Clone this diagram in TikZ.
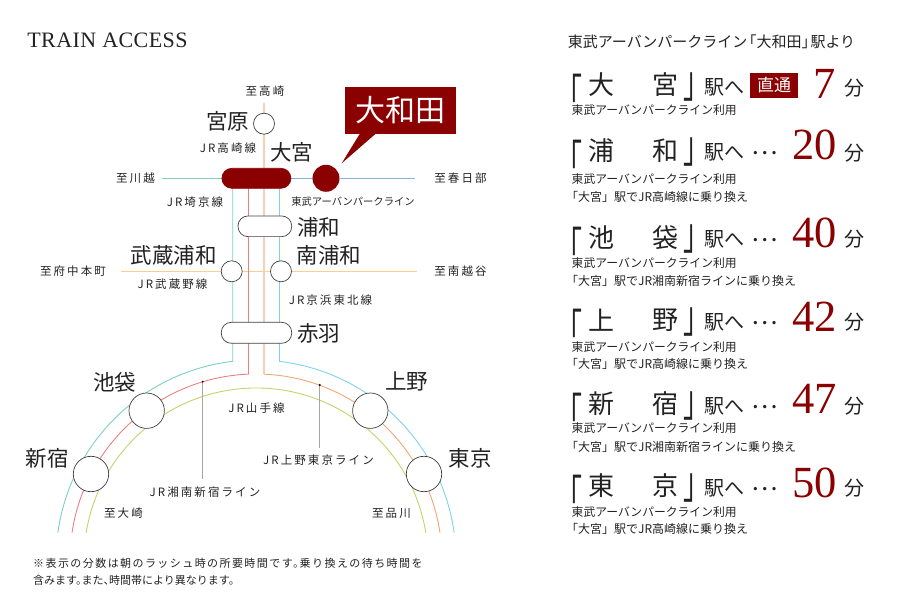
\documentclass[tikz,border=0pt]{standalone}
\usepackage{fontspec}
\setmainfont{Liberation Serif}
\newfontfamily\jp{Noto Sans CJK JP}
\newfontfamily\jpwide[LetterSpace=18]{Noto Sans CJK JP}
\newfontfamily\jptext[LetterSpace=13]{Noto Sans CJK JP}
\newfontfamily\jpbracket[RawFeature=+halt]{Noto Sans CJK JP}
\newfontfamily\titlefont[LetterSpace=2]{Liberation Serif}
\usetikzlibrary{backgrounds,calc}

\definecolor{omiyared}{HTML}{8B0000}
\definecolor{saikyoline}{HTML}{7CD0C6}
\definecolor{shonanline}{HTML}{EE7F80}
\definecolor{uenoline}{HTML}{F3A676}
\definecolor{keihinline}{HTML}{7FD2EC}
\definecolor{yamanoteline}{HTML}{BFD76A}
\definecolor{tobuline}{HTML}{7FB6E0}
\definecolor{musashinoline}{HTML}{F9D08E}
\definecolor{inktext}{HTML}{222222}

\newcommand{\openbr}{\scalebox{1}[1.7]{「}}
\newcommand{\closebr}{\scalebox{1}[1.7]{」}}

\tikzset{
    railline/.style={line width=0.9pt},
    stationdot/.style={circle, draw=black!75, fill=white, line width=0.7pt, inner sep=0pt, outer sep=0pt, minimum size=#1},
    stationpill/.style={rectangle, rounded corners=10pt, draw=black!75, fill=white, line width=0.7pt, inner sep=0pt, outer sep=0pt},
    stationname/.style={font=\jp\fontsize{21.5}{24}\selectfont, text=inktext, inner sep=0pt},
    linelabel/.style={font=\jpwide\fontsize{11.5}{13}\selectfont, text=inktext, inner sep=0pt},
    bigkanji/.style={font=\jp\fontsize{26}{28}\selectfont, text=inktext, inner sep=0pt},
    bigbracket/.style={font=\jpbracket\fontsize{26}{28}\selectfont, text=inktext, inner sep=0pt},
    ekitext/.style={font=\jp\fontsize{20}{22}\selectfont, text=inktext, inner sep=0pt},
    waitdots/.style={font=\jp\fontsize{25}{27}\selectfont, text=inktext, inner sep=0pt},
    minutes/.style={font=\fontsize{44.5}{48}\selectfont, text=omiyared, inner sep=0pt, anchor=base east},
    subtext/.style={font=\jp\fontsize{11.8}{14}\selectfont, text=inktext, inner sep=0pt, anchor=west},
    changetext/.style={font=\jp\fontsize{12}{14}\selectfont, text=inktext, inner sep=0pt, anchor=west},
    leaderline/.style={draw=black!35, line width=0.8pt},
    leaderdot/.style={circle, fill=black, inner sep=0pt, minimum size=2.2pt}
}

\begin{document}
\begin{tikzpicture}[x=1pt, y=1pt]
\useasboundingbox (0,0) rectangle (900,600);
\begin{scope}
    % Title
    \node[font=\titlefont\fontsize{22}{24}\selectfont, text=inktext, inner sep=0pt] (title) at (107.5, 560) {TRAIN ACCESS};

    % Free ends of the lines
    \coordinate (takasakiend) at (264, 497);
    \coordinate (kawagoeend) at (162, 421.7);
    \coordinate (kasukabeend) at (415, 421.7);
    \coordinate (fuchuend) at (121, 328.7);
    \coordinate (koshigayaend) at (416.7, 328.7);
    \coordinate (saikyotop) at (232.7, 422);
    \coordinate (shonantop) at (248.5, 422);
    \coordinate (keihintop) at (279.5, 422);
    \coordinate (saikyobend) at (232.7, 238.64);
    \coordinate (shonanbend) at (248.5, 225.85);
    \coordinate (uenobend) at (264, 225.83);
    \coordinate (keihinbend) at (279.5, 238.6);
    \coordinate (yamanoteend) at (425.8, 67.3);

    % Stations
    \node[stationdot=21pt] (miyahara) at (264, 476.3) {};
    \node[stationpill, draw=omiyared, fill=omiyared, minimum width=69pt, minimum height=20pt] (omiya) at (256.4, 421.7) {};
    \node[circle, fill=omiyared, inner sep=0pt, outer sep=0pt, minimum size=27pt] (owada) at (326, 421.7) {};
    \node[stationpill, minimum width=53.7pt, minimum height=20.7pt] (urawa) at (264.85, 373.7) {};
    \node[stationdot=21pt] (musashiurawa) at (231.7, 328.7) {};
    \node[stationdot=21pt] (minamiurawa) at (281, 328.7) {};
    \node[stationpill, minimum width=70.4pt, minimum height=21pt] (akabane) at (256.5, 267.2) {};
    \node[stationdot=35.4pt] (ikebukuro) at (146.7, 189.3) {};
    \node[stationdot=35.4pt] (shinjuku) at (91, 126) {};
    \node[stationdot=35.4pt] (ueno) at (370.3, 189.3) {};
    \node[stationdot=35.4pt] (tokyo) at (424, 126) {};

    % Lines behind the stations
    \begin{scope}[on background layer]
        \draw[railline, musashinoline] (fuchuend) -- (musashiurawa);
        \draw[railline, musashinoline] (musashiurawa) -- (minamiurawa);
        \draw[railline, musashinoline] (minamiurawa) -- (koshigayaend);
        \draw[railline, saikyoline] (kawagoeend) -- (omiya);
        \draw[railline, tobuline] (omiya) -- (owada);
        \draw[railline, tobuline] (owada) -- (kasukabeend);
        \draw[railline, saikyoline] (saikyotop) -- (saikyobend)
            arc[start angle=96.69, end angle=172.15, radius=200];
        \draw[railline, shonanline] (shonantop) -- (shonanbend)
            arc[start angle=92.31, end angle=171.56, radius=186];
        \draw[line width=1.6pt, uenoline!55] (takasakiend) -- (uenobend);
        \draw[railline, uenoline] (uenobend)
            arc[start angle=87.53, end angle=8.44, radius=186];
        \draw[railline, keihinline] (keihintop) -- (keihinbend)
            arc[start angle=83.25, end angle=7.85, radius=200];
        \draw[railline, yamanoteline] (yamanoteend)
            arc[start angle=9.13, end angle=170.87, radius=172];
    \end{scope}

    % Tag of the home station
    \node[fill=omiyared, text=white, font=\jp\fontsize{30}{32}\selectfont, inner sep=0pt, outer sep=0pt, minimum width=110.4pt, minimum height=47.3pt] (owadatag) at (400.5, 489.7) {大和田};
    \coordinate (tagtip) at (341.7, 436.7);
    \fill[omiyared] ($(owadatag.south west)+(14.7,0.5)$) -- (tagtip) -- ($(owadatag.south west)+(30.7,0.5)$) -- cycle;

    % Station names
    \node[stationname] (miyaharaname) at (227.5, 479) {宮原};
    \node[stationname] (omiyaname) at (291.5, 448) {大宮};
    \node[stationname] (urawaname) at (318.5, 373) {浦和};
    \node[stationname] (musashiurawaname) at (173.5, 345) {武蔵浦和};
    \node[stationname] (minamiurawaname) at (329, 345) {南浦和};
    \node[stationname] (akabanename) at (318.5, 267) {赤羽};
    \node[stationname] (ikebukuroname) at (114.5, 218) {池袋};
    \node[stationname] (shinjukuname) at (47, 142) {新宿};
    \node[stationname] (uenoname) at (406.5, 219) {上野};
    \node[stationname] (tokyoname) at (470, 142) {東京};

    % Line names and directions
    \node[linelabel] (totakasaki) at (265, 509) {至高崎};
    \node[linelabel] (tokawagoe) at (135.5, 422) {至川越};
    \node[linelabel] (tokasukabe) at (460.5, 422) {至春日部};
    \node[linelabel] (tokoshigaya) at (460.5, 329) {至南越谷};
    \node[linelabel] (tofuchu) at (73, 329) {至府中本町};
    \node[linelabel] (toosaki) at (123.5, 87) {至大崎};
    \node[linelabel] (toshinagawa) at (391.5, 87) {至品川};
    \node[linelabel] (takasakilabel) at (228, 452) {JR高崎線};
    \node[linelabel] (saikyolabel) at (195, 398) {JR埼京線};
    \node[font=\jp\fontsize{10.3}{12}\selectfont, text=inktext, inner sep=0pt] (tobulabel) at (353, 398) {東武アーバンパークライン};
    \node[linelabel] (musashinolabel) at (172.5, 316) {JR武蔵野線};
    \node[linelabel] (keihinlabel) at (330.5, 300) {JR京浜東北線};
    \node[linelabel] (yamanotelabel) at (256.5, 192) {JR山手線};
    \node[linelabel] (uenolabel) at (318.5, 140) {JR上野東京ライン};
    \node[linelabel] (shonanlabel) at (205, 108) {JR湘南新宿ライン};

    % Leaders
    \node[leaderdot] (shonandot) at (202.7, 218.3) {};
    \node[leaderdot] (uenodot) at (319.7, 215) {};
    \draw[leaderline] (shonandot) -- ($(shonanlabel.north -| shonandot)+(0,7)$);
    \draw[leaderline] (uenodot) -- ($(uenolabel.north -| uenodot)+(0,7)$);

    % Note
    \node[font=\jptext\fontsize{11}{13}\selectfont, text=inktext, inner sep=0pt, anchor=west] (notea) at (33, 37) {※表示の分数は朝のラッシュ時の所要時間です。\kern-.4em 乗り換えの待ち時間を};
    \node[font=\jp\fontsize{11}{13}\selectfont, text=inktext, inner sep=0pt, anchor=west] (noteb) at (33, 20) {含みます。\kern-.5em また、\kern-.5em 時間帯により異なります。};

    % Right column
    \node[font=\jp\fontsize{15}{17}\selectfont, text=inktext, inner sep=0pt] (fromowada) at (711.5, 558) {東武アーバンパークライン\kern-.4em 「大和田」\kern-.4em 駅より};

    % Omiya
    \node[bigbracket] (openA) at (576, 507) {\openbr};
    \node[bigkanji] (firstA) at (601.5, 515) {大};
    \node[bigkanji] (secondA) at (665, 515) {宮};
    \node[bigbracket] (closeA) at (690, 513) {\closebr};
    \node[ekitext] (ekiA) at (724, 513) {駅へ};
    \node[fill=omiyared, text=white, font=\jp\fontsize{17}{19}\selectfont, inner sep=0pt, outer sep=0pt, minimum width=48pt, minimum height=24.7pt] (direct) at (774, 514.7) {直通};
    \node[minutes] (minA) at (836, 501) {7};
    \node[ekitext] (funA) at (854.5, 512) {分};
    \node[subtext] (subA) at (571.5, 490) {東武アーバンパークライン利用};

    % Urawa
    \node[bigbracket] (openB) at (576, 441.5) {\openbr};
    \node[bigkanji] (firstB) at (601.5, 449.5) {浦};
    \node[bigkanji] (secondB) at (665, 449.5) {和};
    \node[bigbracket] (closeB) at (690, 447.5) {\closebr};
    \node[ekitext] (ekiB) at (724, 448) {駅へ};
    \node[waitdots] (dotsB) at (764.5, 447) {…};
    \node[minutes] (minB) at (837, 440) {20};
    \node[ekitext] (funB) at (854.5, 447) {分};
    \node[subtext] (subB) at (571.5, 421) {東武アーバンパークライン利用};
    \node[changetext] (subBB) at (566, 403) {「大宮」駅でJR高崎線に乗り換え};

    % Ikebukuro
    \node[bigbracket] (openC) at (576, 354.5) {\openbr};
    \node[bigkanji] (firstC) at (601.5, 362.5) {池};
    \node[bigkanji] (secondC) at (665, 362.5) {袋};
    \node[bigbracket] (closeC) at (690, 360.5) {\closebr};
    \node[ekitext] (ekiC) at (724, 361) {駅へ};
    \node[waitdots] (dotsC) at (764.5, 360) {…};
    \node[minutes] (minC) at (837, 352) {40};
    \node[ekitext] (funC) at (854.5, 361) {分};
    \node[subtext] (subC) at (571.5, 337) {東武アーバンパークライン利用};
    \node[changetext] (subCC) at (566, 319) {「大宮」駅でJR湘南新宿ラインに乗り換え};

    % Ueno
    \node[bigbracket] (openD) at (576, 272) {\openbr};
    \node[bigkanji] (firstD) at (601.5, 280) {上};
    \node[bigkanji] (secondD) at (665, 280) {野};
    \node[bigbracket] (closeD) at (690, 278) {\closebr};
    \node[ekitext] (ekiD) at (724, 278) {駅へ};
    \node[waitdots] (dotsD) at (764.5, 277) {…};
    \node[minutes] (minD) at (837, 268) {42};
    \node[ekitext] (funD) at (854.5, 278) {分};
    \node[subtext] (subD) at (571.5, 253) {東武アーバンパークライン利用};
    \node[changetext] (subDD) at (566, 236) {「大宮」駅でJR高崎線に乗り換え};

    % Shinjuku
    \node[bigbracket] (openE) at (576, 188) {\openbr};
    \node[bigkanji] (firstE) at (601.5, 196) {新};
    \node[bigkanji] (secondE) at (665, 196) {宿};
    \node[bigbracket] (closeE) at (690, 194) {\closebr};
    \node[ekitext] (ekiE) at (724, 194) {駅へ};
    \node[waitdots] (dotsE) at (764.5, 193) {…};
    \node[minutes] (minE) at (837, 186) {47};
    \node[ekitext] (funE) at (854.5, 194) {分};
    \node[subtext] (subE) at (571.5, 172) {東武アーバンパークライン利用};
    \node[changetext] (subEE) at (566, 153) {「大宮」駅でJR湘南新宿ラインに乗り換え};

    % Tokyo
    \node[bigbracket] (openF) at (576, 106) {\openbr};
    \node[bigkanji] (firstF) at (601.5, 114) {東};
    \node[bigkanji] (secondF) at (665, 114) {京};
    \node[bigbracket] (closeF) at (690, 112) {\closebr};
    \node[ekitext] (ekiF) at (724, 112) {駅へ};
    \node[waitdots] (dotsF) at (764.5, 111) {…};
    \node[minutes] (minF) at (837, 102) {50};
    \node[ekitext] (funF) at (854.5, 112) {分};
    \node[subtext] (subF) at (571.5, 88) {東武アーバンパークライン利用};
    \node[changetext] (subFF) at (566, 71) {「大宮」駅でJR高崎線に乗り換え};
\end{scope}
\end{tikzpicture}
\end{document}
